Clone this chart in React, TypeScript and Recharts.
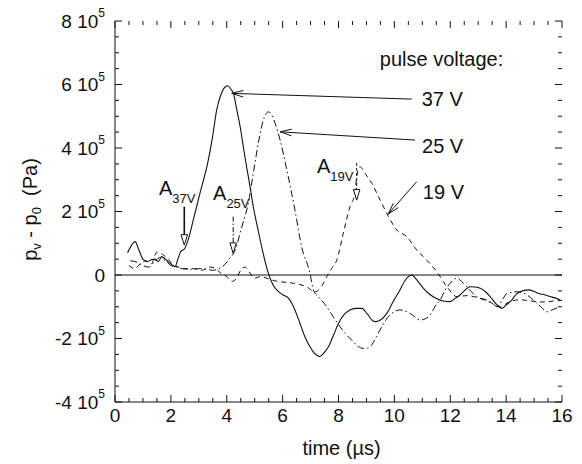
import React from 'react';
import { LineChart, Line, XAxis, YAxis, ReferenceLine, ReferenceDot, Label } from 'recharts';

const FONT = '"Liberation Sans", Arial, Helvetica, sans-serif';
const INK = '#111';

// time in µs, pressure in units of 10^5 Pa
const series37V: number[][] = [
  [0.45, 0.7], [0.6, 0.95], [0.72, 1.05], [0.85, 0.8], [1.0, 0.5], [1.15, 0.42], [1.3, 0.48], [1.43, 0.5],
  [1.55, 0.42], [1.67, 0.58], [1.8, 0.5], [1.9, 0.42], [2.0, 0.35], [2.15, 0.26], [2.25, 0.5], [2.35, 0.73],
  [2.5, 0.84], [2.65, 1.2], [2.8, 1.73], [3.04, 2.57], [3.34, 3.62], [3.5, 4.4], [3.64, 5.2], [3.8, 5.7],
  [3.95, 5.93], [4.03, 5.96], [4.15, 5.85], [4.24, 5.72], [4.36, 5.2], [4.48, 4.67], [4.6, 4.0], [4.71, 3.41],
  [4.83, 2.8], [4.95, 2.15], [5.1, 1.5], [5.25, 0.89], [5.38, 0.4], [5.49, 0.05], [5.65, -0.3], [5.79, -0.47],
  [6.0, -0.62], [6.2, -0.72], [6.39, -1.0], [6.62, -1.52], [6.8, -1.95], [6.98, -2.26], [7.15, -2.48],
  [7.32, -2.57], [7.48, -2.45], [7.64, -2.26], [7.82, -1.9], [8.0, -1.52], [8.2, -1.25], [8.41, -1.1],
  [8.6, -1.05], [8.83, -1.05], [9.05, -1.25], [9.2, -1.42], [9.31, -1.47], [9.5, -1.42], [9.73, -1.21],
  [9.95, -0.85], [10.2, -0.47], [10.4, -0.15], [10.62, 0.0], [10.8, -0.15], [11.04, -0.42], [11.25, -0.6],
  [11.5, -0.74], [11.75, -0.82], [11.99, -0.84], [12.2, -0.72], [12.35, -0.63], [12.5, -0.5], [12.71, -0.37],
  [12.9, -0.38], [13.07, -0.42], [13.25, -0.52], [13.43, -0.68], [13.65, -0.92], [13.84, -1.05], [14.0, -0.95],
  [14.2, -0.79], [14.35, -0.62], [14.5, -0.53], [14.8, -0.47], [15.0, -0.52], [15.16, -0.58], [15.4, -0.63],
  [15.57, -0.68], [15.75, -0.72], [15.93, -0.79],
];

const series25V: number[][] = [
  [0.55, 0.45], [0.8, 0.4], [1.0, 0.3], [1.2, 0.25], [1.4, 0.4], [1.6, 0.55], [1.8, 0.45], [2.0, 0.3],
  [2.2, 0.25], [2.4, 0.2], [2.7, 0.18], [3.0, 0.2], [3.3, 0.18], [3.5, 0.15], [3.76, 0.22], [3.95, 0.35],
  [4.06, 0.47], [4.3, 0.79], [4.54, 1.52], [4.77, 2.26], [4.95, 3.2], [5.13, 4.15], [5.31, 4.88], [5.49, 5.14],
  [5.6, 5.05], [5.73, 4.78], [5.91, 4.25], [6.15, 3.31], [6.44, 2.05], [6.68, 0.89], [6.98, 0.05], [7.1, -0.47],
  [7.3, -0.7], [7.58, -1.0], [7.8, -1.3], [8.06, -1.63], [8.25, -1.85], [8.47, -2.05], [8.7, -2.25],
  [8.89, -2.31], [9.05, -2.3], [9.19, -2.2], [9.35, -1.95], [9.55, -1.63], [9.75, -1.35], [9.91, -1.21],
  [10.2, -1.1], [10.56, -1.21], [10.75, -1.33], [10.92, -1.42], [11.1, -1.38], [11.28, -1.26], [11.45, -1.0],
  [11.64, -0.79], [11.8, -0.5], [12.0, -0.26], [12.23, -0.1], [12.4, -0.2], [12.59, -0.37], [12.95, -0.68],
  [13.31, -0.79], [13.5, -0.88], [13.67, -1.0], [13.85, -0.8], [14.03, -0.58], [14.39, -0.53], [14.75, -0.63],
  [15.1, -0.89], [15.3, -1.05], [15.46, -1.16], [15.7, -1.08], [15.93, -1.0],
];

const series19V: number[][] = [
  [0.5, 0.3], [0.7, 0.2], [0.9, 0.35], [1.1, 0.45], [1.3, 0.35], [1.5, 0.72], [1.7, 0.65], [1.9, 0.5],
  [2.1, 0.3], [2.3, 0.25], [2.5, 0.2], [2.8, 0.2], [3.1, 0.15], [3.4, 0.25], [3.6, 0.2], [3.8, 0.05],
  [4.0, -0.05], [4.2, -0.2], [4.35, -0.1], [4.5, 0.15], [4.65, 0.25], [4.8, 0.1], [5.0, -0.1], [5.2, -0.05],
  [5.43, -0.1], [5.7, -0.18], [5.91, -0.21], [6.39, -0.26], [6.86, -0.37], [7.16, -0.53], [7.4, -0.35],
  [7.58, -0.05], [7.75, 0.2], [7.94, 0.47], [8.17, 1.31], [8.41, 2.15], [8.59, 2.57], [8.65, 3.1], [8.77, 3.41],
  [8.95, 3.2], [9.19, 2.89], [9.49, 2.36], [9.79, 1.84], [10.08, 1.42], [10.44, 1.21], [10.8, 0.79],
  [11.16, 0.47], [11.52, 0.1], [11.88, -0.37], [12.23, -0.68], [12.6, -0.65], [13.0, -0.72], [13.4, -0.85],
  [13.8, -1.0], [14.1, -0.85], [14.5, -0.78], [14.9, -0.82], [15.3, -0.85], [15.7, -0.82], [16.0, -0.8],
];

const xTicks = [0, 0.5, 1, 1.5, 2, 2.5, 3, 3.5, 4, 4.5, 5, 5.5, 6, 6.5, 7, 7.5, 8, 8.5, 9, 9.5, 10, 10.5, 11, 11.5, 12, 12.5, 13, 13.5, 14, 14.5, 15, 15.5, 16];
const yTicks = [-4, -3.5, -3, -2.5, -2, -1.5, -1, -0.5, 0, 0.5, 1, 1.5, 2, 2.5, 3, 3.5, 4, 4.5, 5, 5.5, 6, 6.5, 7, 7.5, 8];
const xMajor = [0, 2, 4, 6, 8, 10, 12, 14, 16];
const yMajor = [-4, -2, 0, 2, 4, 6, 8];
const X_DOMAIN = [0, 16];
const Y_DOMAIN = [-4, 8];

const voltageLabels = ['37 V', '25 V', '19 V'];
const legendTitle = 'pulse voltage:';

// annotation placement (data coordinates)
const voltageArrows = [
  { from: [10.62, 5.54], to: [4.18, 5.72] },
  { from: [10.74, 4.25], to: [5.91, 4.51] },
  { from: [10.8, 2.94], to: [9.78, 1.92] },
];
const voltageLabelPos = [[10.98, 5.53], [10.99, 4.06], [11.02, 2.62]];
const legendTitlePos = [9.48, 6.8];

const aLabels = [
  { sub: '37V', pos: [1.575, 2.74], from: [2.48, 2.15], to: [2.48, 0.94], dash: undefined as string | undefined },
  { sub: '25V', pos: [3.51, 2.57], from: [4.23, 1.84], to: [4.23, 0.68], dash: '5 2 1.5 2' },
  { sub: '19V', pos: [7.23, 3.42], from: [8.65, 3.53], to: [8.65, 2.36], dash: '3 2' },
];

const toData = (arr: number[][]) => arr.map(([t, p]) => ({ t, p }));
const isMajorX = (v: number) => xMajor.includes(v);
const isMajorY = (v: number) => yMajor.includes(v);

// axis tick label offset: tickSize (6) + tickMargin (2)
const TICK_OFF = 8;

const BottomLabel = (props: any) => {
  const { x, y, payload } = props;
  const v = payload.value;
  if (!isMajorX(v)) return <g />;
  const axisY = y - TICK_OFF;
  return (
    <text x={x} y={axisY + 13} textAnchor="middle" dominantBaseline="central" fontSize={19} fontFamily={FONT} fill={INK}>
      {String(v)}
    </text>
  );
};

const LeftLabel = (props: any) => {
  const { x, y, payload } = props;
  const v = payload.value;
  if (!isMajorY(v)) return <g />;
  const axisX = x + TICK_OFF;
  return (
    <text x={axisX - 10} y={y} textAnchor="end" dominantBaseline="central" fontSize={19} fontFamily={FONT} fill={INK}>
      {v === 0 ? '0' : (
        <>
          {`${v} 10`}
          <tspan dy={-8} fontSize={12}>5</tspan>
        </>
      )}
    </text>
  );
};

// inward tick marks at both ends of a full-span segment
const xTickShape = (major: boolean) => (props: any) => {
  const { x1, y1, x2, y2 } = props;
  const len = major ? 7 : 4;
  return (
    <g>
      <line x1={x1} y1={y1} x2={x1} y2={y1 - len} stroke={INK} strokeWidth={1} />
      <line x1={x2} y1={y2} x2={x2} y2={y2 + len} stroke={INK} strokeWidth={1} />
    </g>
  );
};
const yTickShape = (major: boolean) => (props: any) => {
  const { x1, y1, x2, y2 } = props;
  const len = major ? 7 : 4;
  return (
    <g>
      <line x1={x1} y1={y1} x2={x1 + len} y2={y1} stroke={INK} strokeWidth={1} />
      <line x1={x2} y1={y2} x2={x2 - len} y2={y2} stroke={INK} strokeWidth={1} />
    </g>
  );
};

const XAxisTitle = (props: any) => {
  const vb = props.viewBox;
  return (
    <text x={vb.x + vb.width / 2 + 3} y={vb.y + 46} textAnchor="middle" dominantBaseline="central" fontSize={20} fontFamily={FONT} fill={INK}>
      time (µs)
    </text>
  );
};

const YAxisTitle = (props: any) => {
  const vb = props.viewBox;
  const cx = 30;
  const cy = vb.y + vb.height / 2 - 2;
  return (
    <text x={cx} y={cy} transform={`rotate(-90 ${cx} ${cy})`} textAnchor="middle" dominantBaseline="central" fontSize={20} fontFamily={FONT} fill={INK}>
      p<tspan dy={6} fontSize={13}>v</tspan>
      <tspan dy={-6}> - p</tspan>
      <tspan dy={6} fontSize={13}>0</tspan>
      <tspan dy={-6}>{'\u00A0\u00A0(Pa)'}</tspan>
    </text>
  );
};

const chevronArrow = (props: any) => {
  const { x1, y1, x2, y2 } = props;
  const ang = Math.atan2(y2 - y1, x2 - x1);
  const L = 12;
  const a = 0.28;
  const p1 = [x2 - L * Math.cos(ang - a), y2 - L * Math.sin(ang - a)];
  const p2 = [x2 - L * Math.cos(ang + a), y2 - L * Math.sin(ang + a)];
  return (
    <g>
      <line x1={x1} y1={y1} x2={x2} y2={y2} stroke={INK} strokeWidth={1} />
      <polyline points={`${p1[0]},${p1[1]} ${x2},${y2} ${p2[0]},${p2[1]}`} fill="none" stroke={INK} strokeWidth={1} />
    </g>
  );
};

const triangleArrow = (dash: string | undefined, width: number) => (props: any) => {
  const { x1, y1, x2, y2 } = props;
  const ang = Math.atan2(y2 - y1, x2 - x1);
  const L = 11;
  const a = 0.3;
  const p1 = [x2 - L * Math.cos(ang - a), y2 - L * Math.sin(ang - a)];
  const p2 = [x2 - L * Math.cos(ang + a), y2 - L * Math.sin(ang + a)];
  const bx = (p1[0] + p2[0]) / 2;
  const by = (p1[1] + p2[1]) / 2;
  return (
    <g>
      <line x1={x1} y1={y1} x2={bx} y2={by} stroke={INK} strokeWidth={width} strokeDasharray={dash} />
      <polygon points={`${p1[0]},${p1[1]} ${x2},${y2} ${p2[0]},${p2[1]}`} fill="#fff" stroke={INK} strokeWidth={1} />
    </g>
  );
};

const textShape = (content: React.ReactNode, anchor: string = 'start') => (props: any) => (
  <text x={props.cx} y={props.cy} textAnchor={anchor} dominantBaseline="central" fontSize={20} fontFamily={FONT} fill={INK}>
    {content}
  </text>
);

export default function App() {
  return (
    <div style={{ position: 'absolute', left: 0, top: 0, width: 582, height: 464, background: '#fff' }}>
      <LineChart width={582} height={464} margin={{ top: 21, right: 20, bottom: 0, left: 0 }}>
        <XAxis
          dataKey="t"
          type="number"
          domain={X_DOMAIN}
          ticks={xTicks}
          interval={0}
          allowDataOverflow
          height={62}
          tickSize={6}
          tickMargin={2}
          tickLine={false}
          axisLine={{ stroke: INK, strokeWidth: 1 }}
          tick={(p: any) => <BottomLabel {...p} />}
        >
          <Label content={XAxisTitle} />
        </XAxis>
        <XAxis
          xAxisId="top"
          orientation="top"
          dataKey="t"
          type="number"
          domain={X_DOMAIN}
          allowDataOverflow
          height={0}
          tick={false}
          tickLine={false}
          axisLine={{ stroke: INK, strokeWidth: 1 }}
        />
        <YAxis
          type="number"
          domain={Y_DOMAIN}
          ticks={yTicks}
          interval={0}
          allowDataOverflow
          width={115}
          tickSize={6}
          tickMargin={2}
          tickLine={false}
          axisLine={{ stroke: INK, strokeWidth: 1 }}
          tick={(p: any) => <LeftLabel {...p} />}
        >
          <Label content={YAxisTitle} />
        </YAxis>
        <YAxis
          yAxisId="right"
          orientation="right"
          type="number"
          domain={Y_DOMAIN}
          allowDataOverflow
          width={0}
          tick={false}
          tickLine={false}
          axisLine={{ stroke: INK, strokeWidth: 1 }}
        />

        {xTicks.map((v) => (
          <ReferenceLine
            key={`xt${v}`}
            segment={[{ x: v, y: Y_DOMAIN[0] }, { x: v, y: Y_DOMAIN[1] }]}
            ifOverflow="visible"
            shape={xTickShape(isMajorX(v))}
          />
        ))}
        {yTicks.map((v) => (
          <ReferenceLine
            key={`yt${v}`}
            segment={[{ x: X_DOMAIN[0], y: v }, { x: X_DOMAIN[1], y: v }]}
            ifOverflow="visible"
            shape={yTickShape(isMajorY(v))}
          />
        ))}

        <ReferenceLine y={0} stroke={INK} strokeWidth={1} />

        <Line data={toData(series19V)} dataKey="p" type="monotone" stroke={INK} strokeWidth={1} strokeDasharray="5 4" dot={false} activeDot={false} isAnimationActive={false} />
        <Line data={toData(series25V)} dataKey="p" type="monotone" stroke={INK} strokeWidth={1} strokeDasharray="7 3 1.5 3" dot={false} activeDot={false} isAnimationActive={false} />
        <Line data={toData(series37V)} dataKey="p" type="monotone" stroke={INK} strokeWidth={1.1} dot={false} activeDot={false} isAnimationActive={false} />

        {voltageArrows.map((a, i) => (
          <ReferenceLine
            key={`va${i}`}
            segment={[{ x: a.from[0], y: a.from[1] }, { x: a.to[0], y: a.to[1] }]}
            ifOverflow="visible"
            shape={chevronArrow}
          />
        ))}
        {voltageLabels.map((lab, i) => (
          <ReferenceDot key={`vl${i}`} x={voltageLabelPos[i][0]} y={voltageLabelPos[i][1]} r={0} ifOverflow="visible" shape={textShape(lab)} />
        ))}
        <ReferenceDot x={legendTitlePos[0]} y={legendTitlePos[1]} r={0} ifOverflow="visible" shape={textShape(legendTitle)} />

        {aLabels.map((a, i) => (
          <ReferenceLine
            key={`aa${i}`}
            segment={[{ x: a.from[0], y: a.from[1] }, { x: a.to[0], y: a.to[1] }]}
            ifOverflow="visible"
            shape={triangleArrow(a.dash, a.dash ? 1 : 1.6)}
          />
        ))}
        {aLabels.map((a, i) => (
          <ReferenceDot
            key={`al${i}`}
            x={a.pos[0]}
            y={a.pos[1]}
            r={0}
            ifOverflow="visible"
            shape={textShape(
              <>
                A<tspan dy={10} fontSize={13}>{a.sub}</tspan>
              </>
            )}
          />
        ))}
      </LineChart>
    </div>
  );
}
